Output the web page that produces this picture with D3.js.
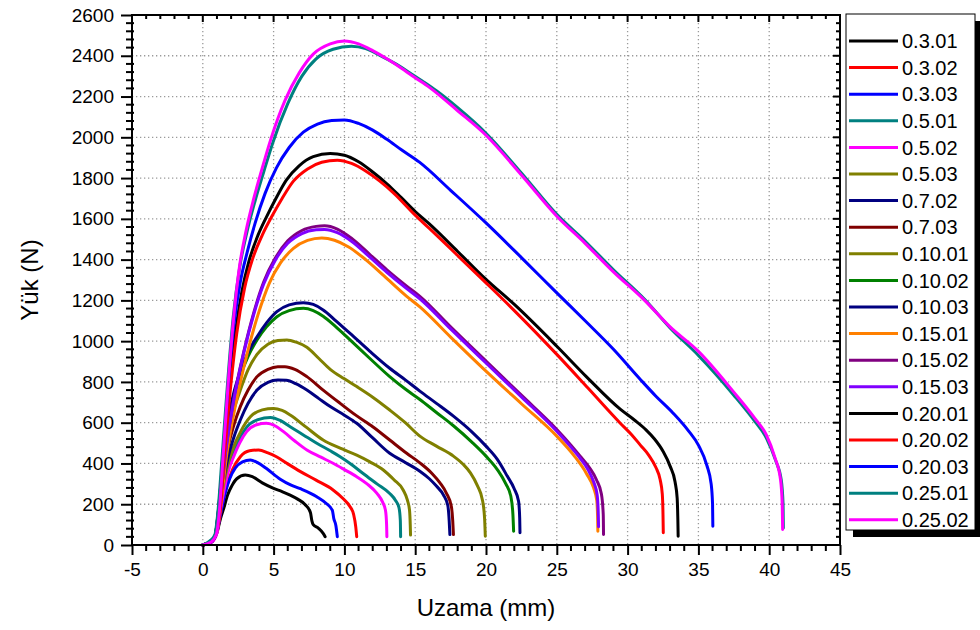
<!DOCTYPE html>
<html><head><meta charset="utf-8">
<script src="https://cdn.jsdelivr.net/npm/d3@7"></script>
<style>
html,body{margin:0;padding:0;background:#fff;}
svg{display:block;font-family:"Liberation Sans",Arial,sans-serif;}
</style></head>
<body><svg id="chart" width="980" height="630"></svg>
<script>
// ---- data ----
const seriesNames = ["0.3.01","0.3.02","0.3.03","0.5.01","0.5.02","0.5.03","0.7.02","0.7.03","0.10.01","0.10.02","0.10.03","0.15.01","0.15.02","0.15.03","0.20.01","0.20.02","0.20.03","0.25.01","0.25.02"];
const seriesColors = ["#000000","#FF0000","#0000FF","#008080","#FF00FF","#808000","#000080","#800000","#808000","#008000","#000080","#FF8000","#800080","#8000FF","#000000","#FF0000","#0000FF","#008080","#FF00FF"];
const xTicks = [-5,0,5,10,15,20,25,30,35,40,45];
const yTicks = [0,200,400,600,800,1000,1200,1400,1600,1800,2000,2200,2400,2600];

const s_0_3_01 = [[0,0],[0.5,10],[0.8,30],[1.0,60],[1.25,130],[1.48,180],[1.75,245],[2.05,290],[2.4,325],[3.0,343],[3.5,335],[4.2,305],[5,278],[5.6,262],[6.17,245],[6.7,225],[7.2,200],[7.6,160],[7.7,120],[7.8,100],[8.17,82],[8.5,57],[8.64,41]];
const s_0_3_02 = [[0,0],[0.5,10],[0.8,30],[1.05,80],[1.35,190],[1.7,290],[2.1,370],[2.65,433],[3.3,462],[3.94,466],[4.6,452],[5.2,433],[6.0,398],[6.9,360],[8.0,318],[9.2,270],[9.9,228],[10.4,188],[10.65,150],[10.8,90],[10.87,41]];
const s_0_3_03 = [[0,0],[0.5,10],[0.8,30],[1.05,80],[1.3,170],[1.6,260],[1.9,325],[2.3,378],[2.8,408],[3.36,417],[3.9,403],[4.5,375],[5.47,323],[6.2,295],[6.9,276],[8.05,237],[8.7,205],[9.15,170],[9.25,130],[9.4,95],[9.5,41]];
const s_0_5_01 = [[0,0],[0.5,15],[0.85,40],[1.1,120],[1.4,255],[1.75,360],[2.18,450],[2.6,520],[3.1,578],[3.9,615],[4.77,626],[5.5,610],[6.17,580],[7.1,540],[8.05,499],[9.0,462],[9.7,433],[10.5,395],[11.3,352],[12.3,300],[13.2,253],[13.6,220],[13.85,185],[13.95,120],[13.97,41]];
const s_0_5_02 = [[0,0],[0.66,16],[1.0,60],[1.2,150],[1.48,260],[1.8,360],[2.18,433],[2.6,500],[3.1,556],[3.8,590],[4.5,597],[5.1,585],[5.7,556],[6.5,510],[7.35,466],[8.3,432],[9.2,401],[10,370],[10.87,335],[11.6,300],[12.3,253],[12.7,210],[12.9,170],[12.98,100],[13.0,41]];
const s_0_5_03 = [[0,0],[0.5,15],[0.85,40],[1.1,125],[1.4,270],[1.75,390],[2.18,482],[2.7,560],[3.36,629],[4.2,663],[5.0,670],[5.6,660],[6.17,638],[7.3,578],[8.5,515],[9.7,475],[10.87,441],[11.8,408],[12.75,368],[13.5,320],[14.15,270],[14.45,220],[14.6,170],[14.65,100],[14.67,49]];
const s_0_7_02 = [[0,0],[0.5,15],[0.85,40],[1.1,135],[1.4,290],[1.75,420],[2.2,530],[2.65,613],[3.2,695],[3.83,760],[4.6,798],[5.3,809],[5.9,808],[6.6,790],[7.35,760],[8.2,718],[9.0,679],[10,637],[10.87,597],[12,525],[13.2,450],[14.3,405],[15.33,362],[16.0,325],[16.5,289],[17.0,245],[17.3,195],[17.4,120],[17.45,51]];
const s_0_7_03 = [[0,0],[0.5,15],[0.85,40],[1.1,140],[1.4,320],[1.75,470],[2.2,590],[2.65,679],[3.2,760],[3.83,826],[4.6,862],[5.3,875],[5.8,875],[6.5,862],[7.35,826],[8.5,760],[9.7,695],[10.8,637],[12.0,580],[13.2,515],[14.4,450],[15.33,403],[16.2,350],[16.75,305],[17.2,255],[17.55,190],[17.65,120],[17.7,51]];
const s_0_10_01 = [[0,0],[0.5,15],[0.85,40],[1.1,160],[1.4,370],[1.75,545],[2.2,665],[2.65,760],[3.2,860],[3.83,935],[4.6,985],[5.3,1003],[5.94,1006],[6.6,995],[7.35,970],[8.2,915],[9.0,862],[10,815],[10.87,777],[12,725],[13.2,662],[14.3,600],[15.33,534],[16.5,485],[17.7,436],[18.4,395],[18.9,354],[19.4,290],[19.75,220],[19.9,130],[19.95,43]];
const s_0_10_02 = [[0,0],[0.5,15],[0.85,40],[1.1,165],[1.4,390],[1.75,580],[2.2,730],[2.65,830],[3.2,925],[3.83,1006],[4.5,1070],[5.23,1120],[6.1,1150],[7.1,1161],[7.8,1150],[8.5,1122],[9.4,1070],[10.4,1006],[11.8,915],[13.2,826],[14.3,765],[15.33,714],[16.5,650],[17.7,585],[19,505],[20,436],[20.8,370],[21.4,300],[21.75,240],[21.9,150],[21.95,68]];
const s_0_10_03 = [[0,0],[0.5,15],[0.85,40],[1.1,170],[1.4,400],[1.75,600],[2.2,750],[2.65,850],[3.2,945],[3.83,1022],[4.5,1090],[5.23,1145],[6.1,1178],[7.1,1189],[7.8,1180],[8.5,1153],[9.4,1100],[10.4,1038],[11.8,950],[13.2,867],[14.3,810],[15.33,755],[16.5,695],[17.7,632],[19,555],[20,485],[20.8,420],[21.5,338],[22.0,275],[22.3,215],[22.38,130],[22.4,60]];
const s_0_15_01 = [[0,0],[0.6,15],[0.95,55],[1.2,160],[1.7,450],[2.35,700],[3.1,930],[3.9,1130],[4.7,1285],[5.5,1385],[6.4,1455],[7.4,1494],[8.4,1506],[9.3,1495],[10.3,1462],[11.5,1400],[12.8,1320],[14.4,1220],[15.33,1168],[17.5,1020],[20,853],[22.5,693],[25,534],[26.2,440],[27.1,350],[27.6,280],[27.82,220],[27.88,140],[27.9,68]];
const s_0_15_02 = [[0,0],[0.6,15],[0.95,60],[1.15,160],[1.6,450],[2.2,720],[2.9,950],[3.6,1140],[4.3,1290],[5.1,1405],[6.0,1492],[7.0,1543],[8.0,1563],[8.6,1566],[9.5,1550],[10.5,1505],[11.8,1425],[13,1350],[14.4,1270],[15.33,1220],[17.5,1070],[20,902],[22.5,735],[25,567],[26,490],[26.65,436],[27.3,380],[27.8,320],[28.15,250],[28.28,150],[28.3,51]];
const s_0_15_03 = [[0,0],[0.6,15],[0.95,60],[1.15,160],[1.6,450],[2.2,715],[2.9,945],[3.6,1132],[4.3,1280],[5.1,1395],[6.0,1480],[7.0,1528],[8.0,1546],[8.6,1548],[9.5,1532],[10.5,1490],[11.8,1412],[13,1338],[14.4,1258],[15.33,1208],[17.5,1060],[20,893],[22.5,727],[25,558],[26,480],[26.65,425],[27.2,370],[27.6,310],[27.85,245],[27.93,150],[27.95,90]];
const s_0_20_01 = [[0,0],[0.6,15],[0.9,50],[1.15,150],[1.45,420],[1.85,750],[2.3,1040],[2.75,1240],[3.25,1390],[3.9,1520],[4.5,1610],[5.2,1705],[5.9,1790],[6.8,1860],[7.8,1905],[9.0,1920],[10,1912],[11,1880],[12,1830],[13,1772],[14,1705],[15,1636],[16,1575],[18,1440],[20,1303],[22,1180],[25,975],[27.1,825],[29.5,665],[30.5,612],[31.3,565],[31.9,520],[32.5,460],[33,387],[33.35,310],[33.5,230],[33.55,120],[33.57,43]];
const s_0_20_02 = [[0,0],[0.6,15],[0.9,50],[1.2,150],[1.5,420],[1.9,730],[2.4,1040],[2.95,1260],[3.5,1400],[4.2,1520],[4.9,1615],[5.6,1700],[6.4,1785],[7.4,1845],[8.4,1878],[9.5,1888],[10.5,1872],[11.5,1835],[12.5,1785],[13.5,1725],[15,1618],[16,1553],[18,1420],[20,1286],[22,1150],[25,935],[27.2,770],[29.45,600],[30.3,540],[30.9,490],[31.5,440],[32,380],[32.3,320],[32.45,250],[32.5,150],[32.52,60]];
const s_0_20_03 = [[0,0],[0.6,15],[0.9,50],[1.1,150],[1.4,420],[1.75,750],[2.2,1080],[2.65,1290],[3.15,1440],[3.7,1580],[4.4,1725],[5.2,1850],[6.1,1950],[7.1,2025],[8.1,2065],[9.1,2082],[10,2085],[11,2068],[12,2035],[13,1990],[14,1940],[15.3,1878],[17.5,1740],[20,1580],[22.5,1410],[25,1237],[27,1100],[29,960],[30.9,812],[32,730],[33.2,648],[34.3,560],[35,490],[35.6,390],[35.9,300],[36.0,200],[36.02,92]];
const s_0_25_01 = [[0,0],[0.5,20],[0.85,50],[1.05,150],[1.35,420],[1.7,750],[2.15,1120],[2.6,1360],[3.1,1530],[3.7,1690],[4.3,1830],[4.95,1975],[6.0,2165],[7.0,2300],[8.0,2385],[9.2,2432],[10.5,2447],[11.5,2435],[12.5,2402],[13.5,2365],[14.5,2322],[15.5,2276],[16.5,2228],[18,2145],[20,2020],[22.5,1825],[25,1622],[27,1490],[29,1350],[31.2,1205],[33,1065],[35,930],[37.5,735],[39,605],[39.8,525],[40.45,415],[40.85,320],[40.98,200],[41.0,84]];
const s_0_25_02 = [[0,0],[0.6,15],[0.95,50],[1.15,150],[1.4,400],[1.8,800],[2.2,1130],[2.6,1370],[3.05,1540],[3.6,1700],[4.2,1850],[4.8,1990],[5.8,2180],[6.8,2315],[7.8,2408],[9,2458],[10,2472],[11,2458],[12,2425],[13,2385],[14,2340],[15,2292],[16,2245],[18,2130],[20,2010],[22.5,1815],[25,1613],[27,1480],[29,1340],[31.2,1200],[33,1070],[35,950],[37.5,750],[39,620],[39.8,540],[40.4,430],[40.8,320],[40.92,200],[40.95,76]];

const seriesData = [s_0_3_01,s_0_3_02,s_0_3_03,s_0_5_01,s_0_5_02,s_0_5_03,s_0_7_02,s_0_7_03,s_0_10_01,s_0_10_02,s_0_10_03,s_0_15_01,s_0_15_02,s_0_15_03,s_0_20_01,s_0_20_02,s_0_20_03,s_0_25_01,s_0_25_02];

// ---- layout ----
const svg = d3.select("#chart");
const L = 132, R = 840, T = 15, B = 545;
const x = d3.scaleLinear().domain([-5,45]).range([L,R]);
const y = d3.scaleLinear().domain([0,2600]).range([B,T]);
const font = '"Liberation Sans",Arial,sans-serif';

// grid
const grid = svg.append("g");
grid.selectAll("line.gx").data(xTicks.filter(d=>d>-5 && d<45)).join("line")
  .attr("x1",d=>x(d)).attr("x2",d=>x(d)).attr("y1",T).attr("y2",B)
  .attr("stroke","#9a9a9a").attr("stroke-width",1.3).attr("stroke-dasharray","1.3,2.7");
grid.selectAll("line.gy").data(yTicks.filter(d=>d>0 && d<2600)).join("line")
  .attr("y1",d=>y(d)).attr("y2",d=>y(d)).attr("x1",L).attr("x2",R)
  .attr("stroke","#9a9a9a").attr("stroke-width",1.3).attr("stroke-dasharray","1.3,2.7");

// curves
const line = d3.line().x(d=>x(d[0])).y(d=>y(d[1])).curve(d3.curveMonotoneX);
svg.append("g").selectAll("path").data(seriesData).join("path")
  .attr("d",line).attr("fill","none")
  .attr("stroke",(d,i)=>seriesColors[i]).attr("stroke-width",3)
  .attr("stroke-linejoin","round").attr("stroke-linecap","round");

// axes
const xAxis = d3.axisBottom(x).tickValues(xTicks).tickSize(10).tickPadding(8).tickFormat(d3.format("d"));
const yAxis = d3.axisLeft(y).tickValues(yTicks).tickSize(11).tickPadding(7).tickFormat(d3.format("d"));
const gx = svg.append("g").attr("transform",`translate(0,${B})`).call(xAxis);
const gy = svg.append("g").attr("transform",`translate(${L},0)`).call(yAxis);
[gx,gy].forEach(g=>{
  g.select(".domain").remove();
  g.selectAll(".tick line").attr("stroke","#000").attr("stroke-width",2);
  g.selectAll(".tick text").attr("font-size",19).attr("font-family",font).attr("fill","#000");
});
gx.selectAll(".tick text").text(d=>d<0?"-"+Math.abs(d):d);

// minor ticks
const xMinor = d3.range(-5,45.01,1).filter(v=>v%5!==0);
const yMinor = d3.range(0,2600.1,40).filter(v=>v%200!==0);
const mt = svg.append("g").attr("stroke","#000").attr("stroke-width",2);
mt.selectAll("line.xb").data(xMinor).join("line").attr("x1",d=>x(d)).attr("x2",d=>x(d)).attr("y1",B).attr("y2",B+6);
mt.selectAll("line.yl").data(yMinor).join("line").attr("y1",d=>y(d)).attr("y2",d=>y(d)).attr("x1",L-6).attr("x2",L+2);
mt.selectAll("line.xt").data(xMinor).join("line").attr("x1",d=>x(d)).attr("x2",d=>x(d)).attr("y1",T).attr("y2",T+4);
mt.selectAll("line.xtM").data(xTicks).join("line").attr("x1",d=>x(d)).attr("x2",d=>x(d)).attr("y1",T).attr("y2",T+7);
mt.selectAll("line.yr").data(yMinor).join("line").attr("y1",d=>y(d)).attr("y2",d=>y(d)).attr("x1",R-4).attr("x2",R);
mt.selectAll("line.yrM").data(yTicks).join("line").attr("y1",d=>y(d)).attr("y2",d=>y(d)).attr("x1",R-7).attr("x2",R);

// frame
svg.append("rect").attr("x",L).attr("y",T).attr("width",R-L).attr("height",B-T)
  .attr("fill","none").attr("stroke","#000").attr("stroke-width",2);

// axis titles
svg.append("text").attr("x",(L+R)/2).attr("y",616).attr("text-anchor","middle")
  .attr("font-size",24).attr("font-family",font).text("Uzama (mm)");
svg.append("text").attr("transform",`translate(38,${(T+B)/2}) rotate(-90)`).attr("text-anchor","middle")
  .attr("font-size",24).attr("font-family",font).text("Yük (N)");

// legend
const lg = svg.append("g");
const lx = 846, ly = 14, lw = 129, lh = 516;
lg.append("rect").attr("x",lx+7).attr("y",ly+7).attr("width",lw).attr("height",lh).attr("fill","#000");
lg.append("rect").attr("x",lx).attr("y",ly).attr("width",lw).attr("height",lh).attr("fill","#fff").attr("stroke","#000").attr("stroke-width",1);
const rows = lg.selectAll("g.row").data(seriesNames).join("g").attr("transform",(d,i)=>`translate(0,${41+i*26.6})`);
rows.append("line").attr("x1",849).attr("x2",898).attr("y1",0).attr("y2",0)
  .attr("stroke",(d,i)=>seriesColors[i]).attr("stroke-width",3);
rows.append("text").attr("x",902).attr("dy","0.36em").attr("font-size",20).attr("font-family",font).text(d=>d);
</script></body></html>
